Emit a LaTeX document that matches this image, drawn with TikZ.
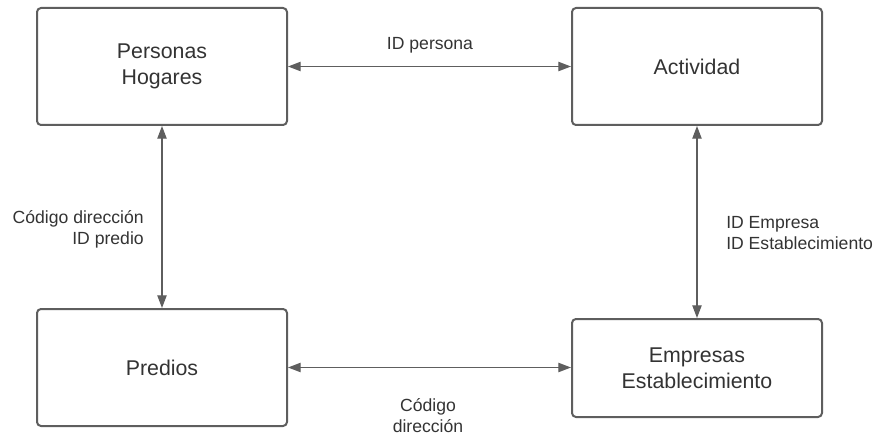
\documentclass[tikz,border=0pt]{standalone}
\usepackage{fontspec}
\setmainfont{Liberation Sans}
\usetikzlibrary{arrows.meta}
\definecolor{boxline}{HTML}{5E5E5E}
\definecolor{txt}{HTML}{333333}
\begin{document}
\begin{tikzpicture}[x=0.75pt,y=-0.75pt,
  entity/.style={draw=boxline,line width=1.5pt,rounded corners=3pt,minimum width=187.5pt,
    inner sep=0pt,align=center,text=txt,font=\fontsize{16}{19.5}\selectfont,fill=white},
  link/.style={draw=boxline,line width=0.9pt,{Triangle[length=9.5pt,width=7pt]}-{Triangle[length=9.5pt,width=7pt]}},
  lbl/.style={text=txt,font=\fontsize{13.2}{15.75}\selectfont,inner sep=0pt}]
\useasboundingbox (0,0) rectangle (876,435);
\node[entity,minimum height=87.75pt] (tl) at (162,66.5) {Personas\\Hogares};
\node[entity,minimum height=87.75pt] (tr) at (697,66.5) {Actividad};
\node[entity,minimum height=87.75pt] (bl) at (162,367.5) {Predios};
\node[entity,minimum height=73.5pt] (br) at (697,368) {Empresas\\Establecimiento};
\draw[link] (tl.east) -- (tr.west);
\draw[link] (tl.south) -- (bl.north);
\draw[link] (tr.south) -- (br.north);
\draw[link] (bl.east) -- (bl.east -| br.west);
\node[lbl] (l1) at (430,45) {ID persona};
\node[lbl,anchor=east,align=right] (l2) at (144,229.5) {Código dirección\\ID predio};
\node[lbl,anchor=west,align=left] (l3) at (726,233) {ID Empresa\\ID Establecimiento};
\node[lbl,align=center] (l4) at (428,415.5) {Código\\dirección};
\end{tikzpicture}
\end{document}
